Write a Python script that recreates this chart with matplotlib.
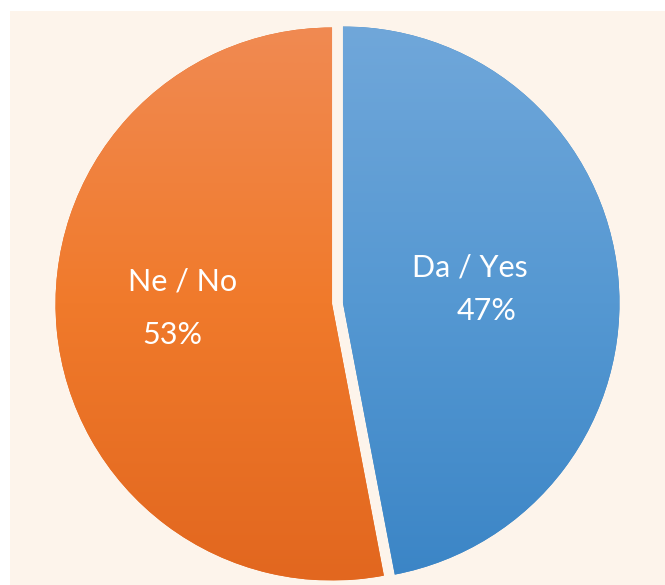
"""
Pie chart: Da / Yes vs Ne / No
"""
import numpy as np
import matplotlib.pyplot as plt
from matplotlib.patches import Rectangle
from matplotlib.colors import LinearSegmentedColormap

#Data
labels = ["Da / Yes", "Ne / No"]
shares = [47, 53]

#Gradient colours per slice (top, middle, bottom)
grads = [("#70A7DA", "#5598D2", "#3B85C6"),
         ("#F18A52", "#F07A2B", "#E2671F")]

W, H = 665, 585
fig = plt.figure(figsize=(W / 100, H / 100), dpi=100, facecolor="white")
ax = fig.add_axes([0, 0, 1, 1])

#Cream panel behind the pie
ax.add_patch(Rectangle((10, 0), W - 10, H - 11, facecolor="#FDF4EB",
                       edgecolor="none", zorder=0))

cx, cy, r = 337.5, 281.5, 276.5
wedges, _ = ax.pie(shares, startangle=90, counterclock=False,
                   center=(cx, cy), radius=r, explode=[5.5, 5.5],
                   colors=[g[2] for g in grads],
                   wedgeprops=dict(linewidth=0))

#Vertical gradient fill clipped to each slice
grad = np.linspace(1, 0, 256).reshape(-1, 1)
for w, (top, mid, bot) in zip(wedges, grads):
    cmap = LinearSegmentedColormap.from_list("g", [bot, mid, top])
    im = ax.imshow(grad, cmap=cmap, aspect="auto",
                   extent=(cx - r - 10, cx + r + 10, cy - r, cy + r),
                   zorder=2, interpolation="bilinear")
    im.set_clip_path(w)

ax.set_xlim(0, W)
ax.set_ylim(0, H)
ax.set_aspect("equal")
ax.axis("off")

#Slice labels
font = dict(color="white", fontsize=22, family="Lato", ha="center",
            va="baseline", zorder=5)
ax.text(470, 308, labels[0], **font)
ax.text(487, 265, f"{shares[0]}%", **font)
ax.text(183, 295, labels[1], **font)
ax.text(172, 241, f"{shares[1]}%", **font)

plt.savefig("out.png", dpi=100, facecolor="white")
